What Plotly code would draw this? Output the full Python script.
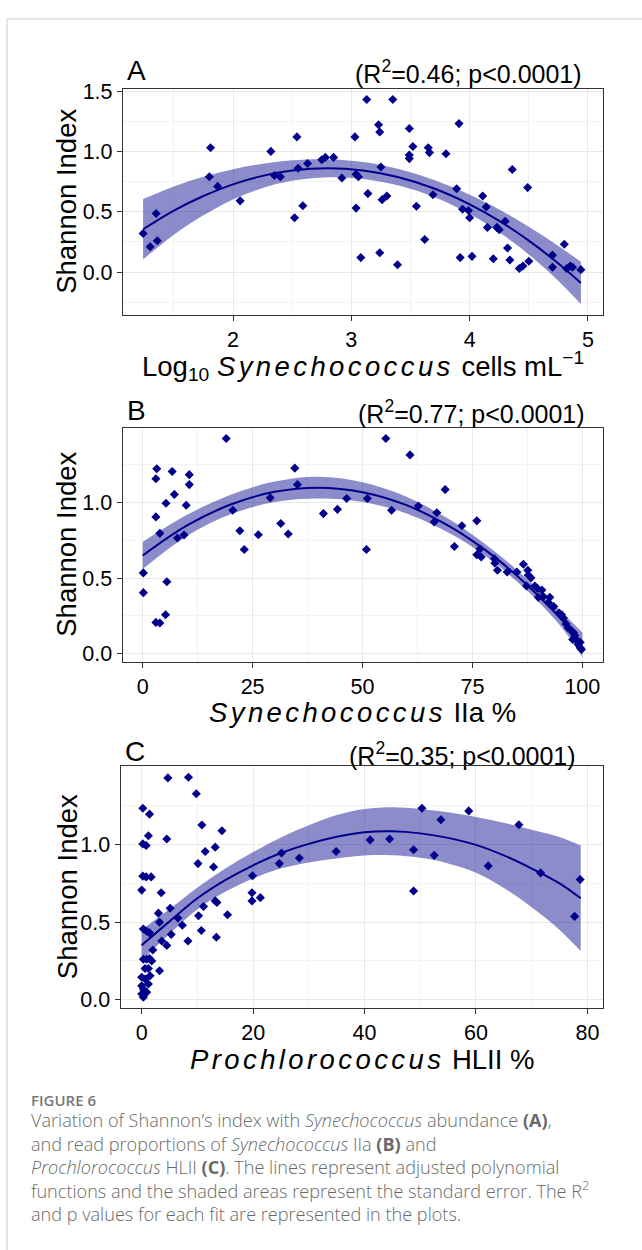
import plotly.graph_objects as go

W, H = 642, 1250

# ---------------- Panel A data ----------------
a_x = [1.24, 1.30, 1.35, 1.36, 1.81, 1.80, 1.87, 2.06, 2.32, 2.35, 2.40, 2.52, 2.54, 2.55, 2.59,
       2.63, 2.75, 2.78, 2.85, 2.92, 3.03, 3.04, 3.06, 3.04, 3.08, 3.13, 3.14, 3.23, 3.24, 3.25,
       3.24, 3.26, 3.30, 3.35, 3.39, 3.49, 3.49, 3.49, 3.52, 3.55, 3.62, 3.65, 3.66, 3.69, 3.80,
       3.89, 3.91, 3.92, 3.94, 3.99, 4.00, 4.02, 4.11, 4.14, 4.15, 4.20, 4.23, 4.25, 4.30, 4.32,
       4.34, 4.36, 4.42, 4.45, 4.49, 4.50, 4.70, 4.70, 4.80, 4.82, 4.85, 4.87, 4.94]
a_y = [0.32, 0.21, 0.485, 0.26, 1.03, 0.79, 0.71, 0.59, 1.00, 0.80, 0.79, 0.45, 1.12, 0.86, 0.55,
       0.90, 0.93, 0.95, 0.95, 0.78, 1.12, 0.81, 0.79, 0.53, 0.12, 1.43, 0.65, 1.22, 1.16, 0.87,
       0.16, 0.60, 0.63, 1.43, 0.06, 1.19, 0.97, 0.94, 1.04, 0.545, 0.27, 1.03, 0.99, 0.64, 0.98,
       0.69, 1.23, 0.12, 0.52, 0.51, 0.45, 0.13, 0.63, 0.54, 0.37, 0.11, 0.37, 0.35, 0.42, 0.20,
       0.10, 0.85, 0.03, 0.05, 0.70, 0.09, 0.14, 0.04, 0.23, 0.03, 0.05, 0.04, 0.02]
a_fit_x = [1.24, 1.50, 1.75, 2.00, 2.25, 2.50, 2.80, 3.10, 3.40, 3.70, 4.00, 4.25, 4.50, 4.75, 4.94]
a_fit_y = [0.355, 0.51, 0.63, 0.727, 0.797, 0.841, 0.86, 0.841, 0.785, 0.692, 0.561, 0.424, 0.26, 0.071, -0.09]
a_fit_se = [0.25, 0.20, 0.16, 0.125, 0.10, 0.085, 0.075, 0.07, 0.068, 0.07, 0.08, 0.095, 0.115, 0.145, 0.175]

# ---------------- Panel B data ----------------
b_x = [0.15, 0.15, 3.0, 3.2, 3.0, 3.0, 3.9, 3.9, 5.3, 5.5, 5.2, 6.7, 7.2, 7.9, 9.4, 9.9, 10.6, 10.6,
       19.0, 20.5, 22.1, 23.1, 26.3, 29.0, 31.4, 33.1, 34.6, 35.2, 41.1, 44.3, 46.4, 50.9, 51.1,
       55.3, 56.6, 60.8, 62.7, 66.3, 66.9, 68.8, 70.9, 72.6, 76.0, 76.0, 76.7, 77.0, 80.0, 80.1,
       80.7, 82.9, 85.1, 86.6, 87.6, 87.7, 88.3, 87.3, 89.2, 89.8, 90.8, 90.0, 91.1, 92.6, 92.3,
       93.5, 94.7, 95.3, 95.7, 96.3, 96.8, 97.4, 98.0, 98.3, 98.7, 99.1, 99.5, 99.8, 99.5, 97.8]
b_y = [0.535, 0.404, 1.159, 1.225, 0.906, 0.207, 0.203, 0.797, 0.996, 0.476, 0.258, 1.207, 1.055,
       0.766, 0.786, 0.983, 1.186, 1.12, 1.426, 0.95, 0.814, 0.69, 0.788, 1.033, 0.862, 0.793,
       1.229, 1.12, 0.928, 0.956, 1.028, 0.69, 1.028, 1.426, 0.95, 1.317, 0.978, 0.873, 0.934,
       1.087, 0.71, 0.847, 0.88, 0.655, 0.694, 0.64, 0.629, 0.60, 0.552, 0.541, 0.541, 0.592,
       0.552, 0.52, 0.502, 0.448, 0.448, 0.432, 0.421, 0.373, 0.378, 0.373, 0.338, 0.312, 0.269,
       0.258, 0.236, 0.197, 0.17, 0.155, 0.138, 0.12, 0.09, 0.061, 0.039, 0.028, 0.076, 0.094]
b_fit_x = [0, 10, 20, 30, 40, 50, 60, 70, 75, 80, 85, 90, 95, 100]
b_fit_y = [0.65, 0.848, 0.988, 1.072, 1.10, 1.07, 0.984, 0.84, 0.747, 0.641, 0.519, 0.384, 0.234, 0.06]
b_fit_se = [0.09, 0.07, 0.065, 0.068, 0.072, 0.065, 0.055, 0.045, 0.04, 0.038, 0.038, 0.04, 0.05, 0.08]

# ---------------- Panel C data ----------------
c_x = [0.2, 1.4, 0.2, 0.8, 1.2, 0.2, 0.8, 1.7, 0.0, 0.3, 0.9, 1.4, 0.3, 0.9, 1.4, 1.8, 2.0, 0.6,
       1.2, 1.5, 0.0, 0.6, 1.2, 0.0, 0.3, 0.0, 0.3, 0.9, 3.2, 3.0, 3.2, 3.5, 3.6, 4.5, 4.7, 4.5,
       5.1, 5.3, 6.5, 7.3, 8.3, 8.4, 9.8, 10.1, 10.2, 10.7, 10.8, 11.1, 11.4, 12.9, 13.2, 13.2,
       13.5, 13.4, 14.4, 15.4, 19.9, 19.8, 19.8, 21.3, 24.7, 25.1, 28.3, 34.9, 41.0, 44.5, 48.8,
       48.8, 50.3, 52.5, 53.7, 58.7, 62.2, 67.7, 71.6, 77.7, 78.7]
c_y = [1.234, 1.196, 1.004, 0.994, 1.057, 0.796, 0.791, 0.791, 0.706, 0.455, 0.44, 0.43, 0.26,
       0.26, 0.264, 0.249, 0.319, 0.20, 0.20, 0.153, 0.143, 0.132, 0.10, 0.089, 0.068, 0.036,
       0.015, 0.047, 0.185, 0.557, 0.498, 0.689, 0.377, 0.349, 1.43, 1.036, 0.589, 0.419, 0.526,
       0.479, 0.377, 1.434, 1.328, 0.877, 0.54, 0.445, 1.126, 0.60, 0.955, 0.855, 0.983, 0.636,
       0.626, 0.402, 1.089, 0.547, 0.798, 0.689, 0.636, 0.657, 0.877, 0.945, 0.913, 0.955, 1.03,
       1.036, 0.966, 0.70, 1.234, 0.93, 1.16, 1.217, 0.862, 1.128, 0.817, 0.536, 0.774]
c_fit_x = [0, 5, 10, 15, 20, 25, 30, 35, 40, 45, 50, 55, 60, 65, 70, 75, 78.8]
c_fit_y = [0.35, 0.504, 0.653, 0.77, 0.866, 0.945, 1.004, 1.05, 1.079, 1.085, 1.072, 1.043, 0.998,
           0.93, 0.845, 0.749, 0.653]
c_fit_se = [0.10, 0.08, 0.07, 0.075, 0.085, 0.10, 0.12, 0.14, 0.15, 0.155, 0.158, 0.165, 0.18,
            0.21, 0.25, 0.30, 0.34]

r2_labels = ["(R<sup>2</sup>=0.46; p<0.0001)", "(R<sup>2</sup>=0.77; p<0.0001)", "(R<sup>2</sup>=0.35; p<0.0001)"]
panel_letters = ["A", "B", "C"]

SP = "letter-spacing:3.4px"
x_titles = [
    "Log<sub>10</sub> <i><span style='%s'>Synechococcus</span></i> cells mL<sup>\u22121</sup>" % SP,
    "<i><span style='%s'>Synechococcus</span></i> IIa %%" % SP,
    "<i><span style='%s'>Prochlorococcus</span></i> HLII %%" % SP,
]

DARK = "#00008B"
BAND = "rgba(0,0,139,0.45)"
FONT = "Liberation Sans, Arial, sans-serif"


def px(x):
    return x / W


def py(y):
    return 1 - y / H


# plot boxes in pixels: (left, right, top, bottom)
boxes = [(123, 603, 80, 308), (122.7, 603, 422.3, 659.3), (120.7, 603, 765, 1009.3)]
xranges = [[1.07, 5.127], [-4.55, 104.7], [-3.77, 82.8]]
yranges = [[-0.352, 1.516], [-0.055, 1.498], [-0.055, 1.504]]
xticks = [[2, 3, 4, 5], [0, 25, 50, 75, 100], [0, 20, 40, 60, 80]]
xminor = [[1.5, 2.5, 3.5, 4.5], [12.5, 37.5, 62.5, 87.5], [10, 30, 50, 70]]
yticks = [[0, 0.5, 1.0, 1.5], [0, 0.5, 1.0], [0, 0.5, 1.0]]
yminor = [[-0.25, 0.25, 0.75, 1.25], [0.25, 0.75, 1.25], [0.25, 0.75, 1.25]]
letter_y = [61, 405, 750]
r2_y = [63, 407, 752]
r2_x = [584, 587, 578]
xtitle_y = [360, 710, 1061]

panels = [
    (a_x, a_y, a_fit_x, a_fit_y, a_fit_se),
    (b_x, b_y, b_fit_x, b_fit_y, b_fit_se),
    (c_x, c_y, c_fit_x, c_fit_y, c_fit_se),
]

fig = go.Figure()
layout = dict(
    width=W, height=H, margin=dict(l=0, r=0, t=0, b=0),
    paper_bgcolor="white", plot_bgcolor="white", showlegend=False,
    font=dict(family=FONT, color="black"),
)
annotations = []

for i, (xs, ys, fx, fy, se) in enumerate(panels):
    sfx = "" if i == 0 else str(i + 1)
    xa, ya = "x" + sfx, "y" + sfx
    lo = [m - s for m, s in zip(fy, se)]
    hi = [m + s for m, s in zip(fy, se)]
    fig.add_trace(go.Scatter(x=fx, y=lo, mode="lines", line=dict(width=0, shape="spline"),
                             xaxis=xa, yaxis=ya, hoverinfo="skip"))
    fig.add_trace(go.Scatter(x=fx, y=hi, mode="lines", line=dict(width=0, shape="spline"),
                             fill="tonexty", fillcolor=BAND, xaxis=xa, yaxis=ya, hoverinfo="skip"))
    fig.add_trace(go.Scatter(x=fx, y=fy, mode="lines", line=dict(color=DARK, width=2, shape="spline"),
                             xaxis=xa, yaxis=ya))
    fig.add_trace(go.Scatter(x=xs, y=ys, mode="markers",
                             marker=dict(symbol="diamond", size=7, color=DARK),
                             xaxis=xa, yaxis=ya))

    l, r, t, b = boxes[i]
    common = dict(showline=True, mirror=True, linecolor="#333333", linewidth=1.3,
                  ticks="outside", ticklen=5, tickcolor="#333333", tickwidth=1,
                  showgrid=True, gridcolor="#e8e8e8", gridwidth=1.1, zeroline=False,
                  tickfont=dict(family=FONT, size=21.5, color="black"))
    layout["xaxis" + sfx] = dict(
        domain=[px(l), px(r)], range=xranges[i], anchor=ya, tickmode="array",
        tickvals=xticks[i], ticktext=[str(v) for v in xticks[i]],
        minor=dict(showgrid=True, tickvals=xminor[i], gridcolor="#f3f3f3", gridwidth=0.7),
        **common)
    layout["yaxis" + sfx] = dict(
        domain=[py(b), py(t)], range=yranges[i], anchor=xa, tickmode="array",
        tickvals=yticks[i], ticktext=["%.1f" % v for v in yticks[i]],
        minor=dict(showgrid=True, tickvals=yminor[i], gridcolor="#f3f3f3", gridwidth=0.7),
        **common)

    annotations.append(dict(text=panel_letters[i], x=px(l + 2), y=py(letter_y[i]),
                            xref="paper", yref="paper", xanchor="left", yanchor="middle",
                            showarrow=False, font=dict(family=FONT, size=28, color="black")))
    annotations.append(dict(text=r2_labels[i], x=px(r2_x[i]), y=py(r2_y[i]),
                            xref="paper", yref="paper", xanchor="right", yanchor="middle",
                            showarrow=False, font=dict(family=FONT, size=25, color="black")))
    annotations.append(dict(text="Shannon Index", x=px(67), y=py((t + b) / 2), textangle=-90,
                            xref="paper", yref="paper", xanchor="center", yanchor="middle",
                            showarrow=False, font=dict(family=FONT, size=27.5, color="black")))
    annotations.append(dict(text=x_titles[i], x=px((l + r) / 2), y=py(xtitle_y[i]),
                            xref="paper", yref="paper", xanchor="center", yanchor="middle",
                            showarrow=False, font=dict(family=FONT, size=27.5, color="black")))

# caption
CAP_FONT = "Open Sans, Lato, sans-serif"
caption_lines = [
    "Variation of Shannon\u2019s index with <i>Synechococcus</i> abundance <b>(A)</b>,",
    "and read proportions of <i>Synechococcus</i> IIa <b>(B)</b> and",
    "<i>Prochlorococcus</i> HLII <b>(C)</b>. The lines represent adjusted polynomial",
    "functions and the shaded areas represent the standard error. The R<sup>2</sup>",
    "and p values for each fit are represented in the plots.",
]
annotations.append(dict(text="FIGURE 6", x=px(29), y=py(1102), xref="paper", yref="paper",
                        xanchor="left", yanchor="middle", showarrow=False,
                        font=dict(family=CAP_FONT, size=15, color="#777777", weight=600)))
annotations.append(dict(text="<br>".join(caption_lines), x=px(29), y=py(1170),
                        xref="paper", yref="paper", xanchor="left", yanchor="middle",
                        align="left", showarrow=False,
                        font=dict(family=CAP_FONT, size=18.1, color="#6a6a6a", weight=300)))

layout["annotations"] = annotations
layout["shapes"] = [dict(type="rect", xref="paper", yref="paper", x0=px(7), x1=1.05,
                         y0=-0.05, y1=py(9), line=dict(color="#cccccc", width=1),
                         fillcolor="rgba(0,0,0,0)", layer="below")]
fig.update_layout(**layout)
fig.write_html("out.html", config={"displayModeBar": False},
               post_script="document.body.style.margin='0';document.body.style.padding='0';")
